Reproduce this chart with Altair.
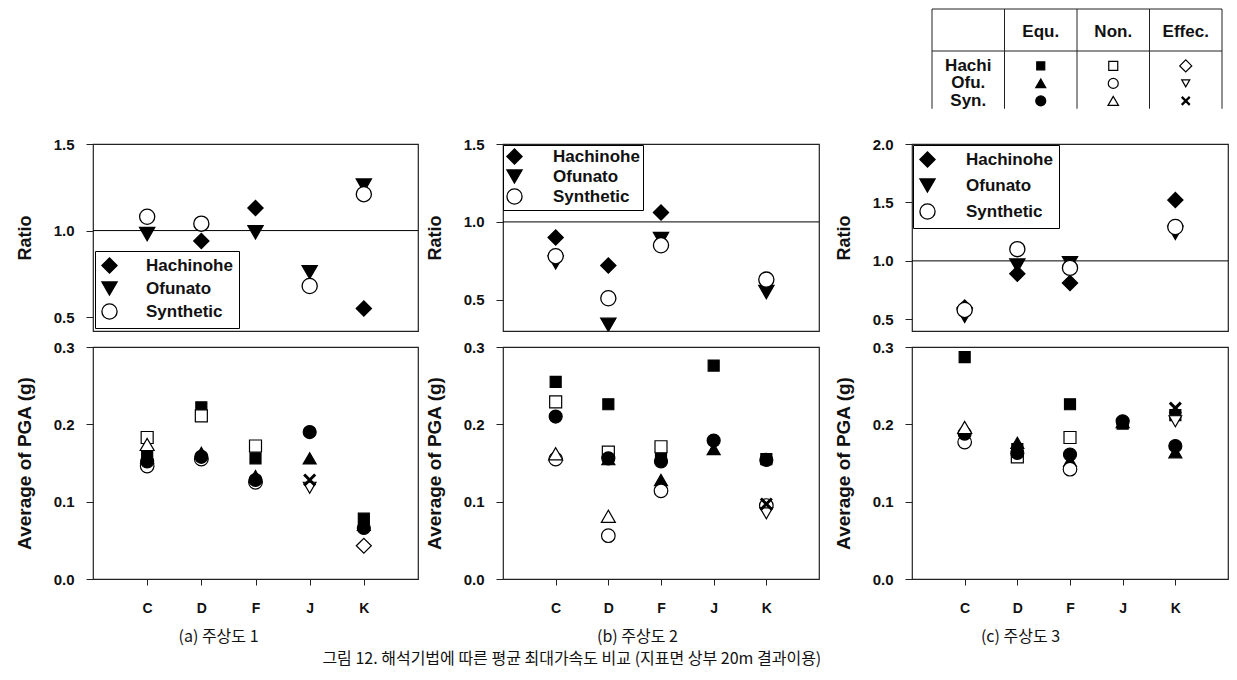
import altair as alt
import pandas as pd

# ---------------- data ----------------
sites = ["C", "D", "F", "J", "K"]
stations = ["Hachinohe", "Ofunato", "Synthetic"]

ratio_a = {
    "Hachinohe": [None, 0.94, 1.13, None, 0.55],
    "Ofunato":   [0.98, None, 0.99, 0.76, 1.26],
    "Synthetic": [1.08, 1.04, None, 0.68, 1.21],
}
ratio_b = {
    "Hachinohe": [0.90, 0.72, 1.06, None, None],
    "Ofunato":   [0.74, 0.34, 0.89, None, 0.55],
    "Synthetic": [0.78, 0.51, 0.85, None, 0.63],
}
ratio_c = {
    "Hachinohe": [0.60, 0.89, 0.81, None, 1.52],
    "Ofunato":   [0.53, 0.96, 0.98, None, 1.24],
    "Synthetic": [0.58, 1.10, 0.94, None, 1.29],
}

series = ["Hachi Equ.", "Hachi Non.", "Hachi Effec.",
          "Ofu Equ.", "Ofu Non.", "Ofu Effec.",
          "Syn Equ.", "Syn Non.", "Syn Effec."]

pga_a = {
    "Hachi Equ.":   [0.161, 0.222, 0.156, None, 0.078],
    "Hachi Non.":   [0.183, 0.211, 0.172, None, None],
    "Hachi Effec.": [None, None, None, None, 0.043],
    "Ofu Equ.":     [0.157, 0.163, 0.133, 0.156, 0.070],
    "Ofu Non.":     [0.146, 0.155, 0.125, None, None],
    "Ofu Effec.":   [None, None, None, 0.118, None],
    "Syn Equ.":     [0.152, 0.158, 0.128, 0.190, 0.066],
    "Syn Non.":     [0.174, None, None, None, None],
    "Syn Effec.":   [None, None, None, 0.128, None],
}
pga_b = {
    "Hachi Equ.":   [0.255, 0.226, 0.158, 0.276, 0.155],
    "Hachi Non.":   [0.229, 0.164, 0.171, None, None],
    "Hachi Effec.": [None, None, None, None, None],
    "Ofu Equ.":     [None, 0.155, 0.128, 0.168, None],
    "Ofu Non.":     [0.155, 0.056, 0.114, None, 0.095],
    "Ofu Effec.":   [None, None, None, None, 0.085],
    "Syn Equ.":     [0.210, 0.156, 0.152, 0.179, 0.154],
    "Syn Non.":     [0.162, 0.081, None, None, None],
    "Syn Effec.":   [None, None, None, None, 0.097],
}
pga_c = {
    "Hachi Equ.":   [0.287, 0.168, 0.226, 0.201, 0.212],
    "Hachi Non.":   [None, 0.158, 0.183, None, None],
    "Hachi Effec.": [None, None, None, None, None],
    "Ofu Equ.":     [None, 0.176, 0.153, 0.203, 0.164],
    "Ofu Non.":     [0.177, None, 0.142, None, None],
    "Ofu Effec.":   [None, None, None, None, 0.204],
    "Syn Equ.":     [0.188, 0.163, 0.161, 0.204, 0.172],
    "Syn Non.":     [0.196, None, None, None, None],
    "Syn Effec.":   [None, None, None, None, 0.221],
}

table_cols = ["", "Equ.", "Non.", "Effec."]
table_rows = ["Hachi", "Ofu.", "Syn."]
table_cells = [["Hachi Equ.", "Hachi Non.", "Hachi Effec."],
               ["Ofu Equ.", "Ofu Non.", "Ofu Effec."],
               ["Syn Equ.", "Syn Non.", "Syn Effec."]]

captions = ["(a) 주상도 1", "(b) 주상도 2", "(c) 주상도 3"]
fig_caption = "그림 12. 해석기법에 따른 평균 최대가속도 비교 (지표면 상부 20m 결과이용)"

# ---------------- styles ----------------
XPATH = "M-1,-1L1,1M-1,1L1,-1"
STYLE = {
    "Hachi Equ.":   dict(shape="square", fill="black", size=121, tsize=64),
    "Hachi Non.":   dict(shape="square", fill="white", size=144, tsize=81),
    "Hachi Effec.": dict(shape="diamond", fill="white", size=225, tsize=144),
    "Ofu Equ.":     dict(shape="triangle-up", fill="black", size=169, tsize=100),
    "Ofu Non.":     dict(shape="circle", fill="white", size=185, tsize=100),
    "Ofu Effec.":   dict(shape="triangle-down", fill="white", size=160, tsize=64),
    "Syn Equ.":     dict(shape="circle", fill="black", size=169, tsize=100),
    "Syn Non.":     dict(shape="triangle-up", fill="white", size=196, tsize=110),
    "Syn Effec.":   dict(shape=XPATH, fill=None, size=121, tsize=64),
}

BOLD = "Liberation Sans"
KFONT = "Noto Sans CJK KR"
INK = "#111"
RES = dict(shape="independent", fill="independent", stroke="independent")


def mark_kw(name, table=False):
    st = STYLE[name]
    size = st["tsize"] if table else st["size"]
    if st["fill"] is None:
        return dict(shape=st["shape"], filled=False, stroke="black",
                    strokeWidth=2.2 if table else 3, size=size, opacity=1)
    return dict(shape=st["shape"], filled=True, fill=st["fill"], stroke="black",
                strokeWidth=1.2, size=size, opacity=1)


def x_enc(axis):
    return alt.X("site:N", scale=alt.Scale(domain=sites, type="point", padding=1), axis=axis)


def y_axis(title, ticks, size):
    return alt.Axis(title=title, values=ticks, format=".1f", labelFontSize=15,
                    labelPadding=12, titleFontSize=size, titlePadding=19)


def ratio_chart(ratios, width, domain, ticks, leg):
    rows = [dict(station=st, site=s, ratio=v)
            for st in stations for s, v in zip(sites, ratios[st]) if v is not None]
    df = pd.DataFrame(rows)
    y = alt.Y("ratio:Q", scale=alt.Scale(domain=domain, nice=False, zero=False),
              axis=y_axis("Ratio", ticks, 18))
    legend = alt.Legend(title=None, orient="none", legendX=leg["x"], legendY=leg["y"],
                        strokeColor="black", fillColor="white", padding=leg["pad"],
                        rowPadding=leg["row"], labelOffset=leg["off"],
                        labelFont=BOLD, labelFontWeight="bold", labelFontSize=17,
                        labelColor=INK, symbolSize=230, symbolStrokeWidth=1.3,
                        symbolOpacity=1, labelLimit=0)
    rule = alt.Chart(pd.DataFrame({"ratio": [1.0]})).mark_rule(
        color="black", strokeWidth=1).encode(y=y)
    pts = alt.Chart(df).mark_point(filled=True, strokeWidth=1.3, size=230,
                                   opacity=1, clip=True).encode(
        x=x_enc(None),
        y=y,
        shape=alt.Shape("station:N", scale=alt.Scale(
            domain=stations, range=["diamond", "triangle-down", "circle"]), legend=legend),
        fill=alt.Fill("station:N", scale=alt.Scale(
            domain=stations, range=["black", "black", "white"]), legend=legend),
        stroke=alt.Stroke("station:N", scale=alt.Scale(
            domain=stations, range=["black", "black", "black"]), legend=legend),
    )
    return alt.layer(rule, pts).properties(width=width, height=187)


def pga_chart(pga, width, caption, caption_x):
    rows = [dict(series=n, site=s, value=v)
            for n in series for s, v in zip(sites, pga[n]) if v is not None]
    df = pd.DataFrame(rows)
    xa = alt.Axis(title=caption, labelAngle=0, labelPadding=16, tickSize=6,
                  labelFontSize=14, titleFont=KFONT, titleFontSize=16,
                  titleFontWeight="normal", titlePadding=13, titleX=caption_x,
                  titleAlign="center")
    y = alt.Y("value:Q", scale=alt.Scale(domain=[0, 0.3], nice=False),
              axis=y_axis("Average of PGA (g)", [0, 0.1, 0.2, 0.3], 19))
    layers = []
    for n in series:
        if all(v is None for v in pga[n]):
            continue
        layers.append(alt.Chart(df).transform_filter(alt.datum.series == n)
                      .mark_point(**mark_kw(n)).encode(x=x_enc(xa), y=y))
    return alt.layer(*layers).properties(width=width, height=232)


TOP_H = 120  # height of table / spacer row
UNIT = 17.5  # px per table row unit
HEADER_H = 2.4


def table_chart(width):
    ydom = [0, TOP_H / UNIT]
    xdom = [-20 / 72.5, (width - 20) / 72.5]
    xs = alt.Scale(domain=xdom, nice=False, zero=False)
    ys = alt.Scale(domain=ydom, nice=False, zero=False, reverse=True)
    row_y = [HEADER_H + 0.85 + i for i in range(len(table_rows))]
    bottom = HEADER_H + 3.3

    head = pd.DataFrame({"x": [i + 0.5 for i in range(len(table_cols))],
                         "y": [HEADER_H * 0.55] * len(table_cols), "t": table_cols})
    rlab = pd.DataFrame({"x": [0.5] * len(table_rows), "y": row_y, "t": table_rows})
    vlines = pd.DataFrame({"x": list(range(len(table_cols) + 1)),
                           "y": [0.0] * (len(table_cols) + 1),
                           "y2": [bottom] * (len(table_cols) + 1)})
    hlines = pd.DataFrame({"x": [0.0, 0.0], "x2": [float(len(table_cols))] * 2,
                           "y": [0.0, HEADER_H]})
    sym_rows = [dict(x=j + 1.5, y=row_y[i], series=table_cells[i][j])
                for i in range(len(table_rows)) for j in range(3)]
    sym = pd.DataFrame(sym_rows)

    X = lambda f: alt.X(f, scale=xs, axis=None)
    Y = lambda f: alt.Y(f, scale=ys, axis=None)
    layers = [
        alt.Chart(vlines).mark_rule(color="#222", strokeWidth=1).encode(
            x=X("x:Q"), y=Y("y:Q"), y2="y2:Q"),
        alt.Chart(hlines).mark_rule(color="#222", strokeWidth=1).encode(
            x=X("x:Q"), x2="x2:Q", y=Y("y:Q")),
        alt.Chart(head).mark_text(font=BOLD, fontWeight="bold", fontSize=17,
                                  color=INK).encode(x=X("x:Q"), y=Y("y:Q"), text="t:N"),
        alt.Chart(rlab).mark_text(font=BOLD, fontWeight="bold", fontSize=17,
                                  color=INK).encode(x=X("x:Q"), y=Y("y:Q"), text="t:N"),
    ]
    for n in series:
        layers.append(alt.Chart(sym).transform_filter(alt.datum.series == n)
                      .mark_point(**mark_kw(n, table=True)).encode(x=X("x:Q"), y=Y("y:Q")))
    return alt.layer(*layers).properties(width=width, height=TOP_H,
                                         view=alt.ViewBackground(stroke=None))


def spacer(width):
    return alt.Chart(pd.DataFrame({"v": [0]})).mark_text(text="").encode(
        x=alt.X("v:Q", axis=None), y=alt.Y("v:Q", axis=None)
    ).properties(width=width, height=TOP_H, view=alt.ViewBackground(stroke=None))


def column(top_row, top, bottom):
    return alt.vconcat(top_row, top, bottom, spacing=7).resolve_scale(**RES).resolve_legend(**RES)


WA, WB, WC = 325, 316, 316

col_a = column(spacer(WA),
               ratio_chart(ratio_a, WA, [0.42, 1.5], [0.5, 1.0, 1.5],
                           dict(x=2, y=107, pad=6, row=3, off=28)),
               pga_chart(pga_a, WA, captions[0], 125))
col_b = column(spacer(WB),
               ratio_chart(ratio_b, WB, [0.30, 1.5], [0.5, 1.0, 1.5],
                           dict(x=0, y=1, pad=3, row=0, off=30)),
               pga_chart(pga_b, WB, captions[1], 134))
col_c = column(table_chart(WC),
               ratio_chart(ratio_c, WC, [0.40, 2.0], [0.5, 1.0, 1.5, 2.0],
                           dict(x=1, y=1, pad=6, row=6, off=30)),
               pga_chart(pga_c, WC, captions[2], 108))

left_pair = alt.hconcat(col_a, col_b, spacing=4).resolve_scale(**RES).resolve_legend(**RES)

chart = alt.hconcat(
    left_pair, col_c, spacing=12,
    title=alt.TitleParams(fig_caption, orient="bottom", anchor="middle", dx=-50,
                          font=KFONT, fontSize=16, fontWeight="normal",
                          color=INK, offset=6),
).resolve_scale(**RES).resolve_legend(**RES).properties(
    padding={"left": 14, "top": 8, "right": 5, "bottom": 5}
).configure_view(
    stroke="#222", strokeWidth=1.2
).configure_axis(
    labelFont=BOLD, labelFontWeight="bold", labelFontSize=14, labelColor=INK,
    tickColor="#222", tickSize=7, labelPadding=8, domain=False, grid=False,
    titleFont=BOLD, titleFontWeight="bold", titleColor=INK,
)

chart.save("out.html", embed_options={"renderer": "svg", "actions": False})
